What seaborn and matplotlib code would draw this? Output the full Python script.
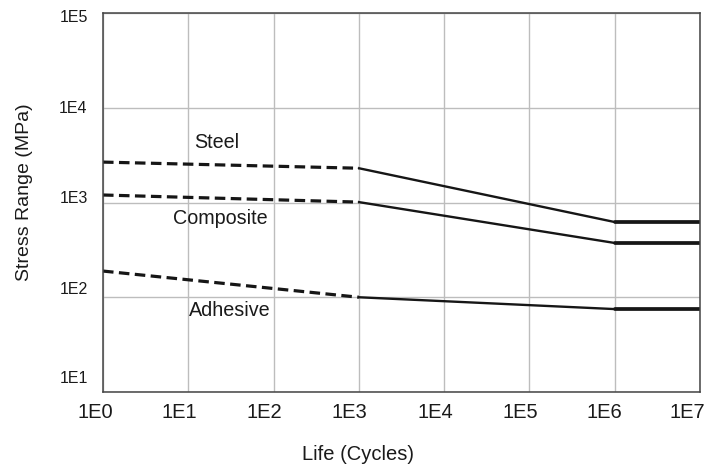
import numpy as np
import pandas as pd
import matplotlib
matplotlib.use("Agg")
import matplotlib.pyplot as plt
import matplotlib.transforms as mtrans
import seaborn as sns

# S-N curve points (life in cycles, stress range in MPa)
materials = ["Steel", "Composite", "Adhesive"]
life_dashed = [1, 1e3]
life_solid = [1e3, 1e6]
life_flat = [1e6, 1e7]
steel_stress = [2670, 2300, 622]
composite_stress = [1200, 1010, 374]
adhesive_stress = [189, 100, 75]
label_pos = {"Steel": (21.7, 4250), "Composite": (24, 686), "Adhesive": (30.8, 71.6)}

x_ticks = [10.0 ** i for i in range(0, 8)]
x_labels = [f"1E{i}" for i in range(0, 8)]
y_ticks = [10.0 ** i for i in range(1, 6)]
y_labels = [f"1E{i}" for i in range(1, 6)]

stress = {"Steel": steel_stress, "Composite": composite_stress, "Adhesive": adhesive_stress}

rows = []
for m in materials:
    s = stress[m]
    for seg, xs, ys in [("dashed", life_dashed, s[0:2]),
                        ("solid", life_solid, s[1:3]),
                        ("flat", life_flat, [s[2], s[2]])]:
        for xv, yv in zip(xs, ys):
            rows.append({"material": m, "segment": seg, "life": xv, "stress": yv})
df = pd.DataFrame(rows)

sns.set_style("white")
plt.rcParams["font.family"] = ["Liberation Sans", "DejaVu Sans"]

fig = plt.figure(figsize=(7.06, 4.68), dpi=100)
ax = fig.add_axes([0.1459, 0.1624, 0.8456, 0.8098])

styles = {"dashed": dict(lw=2.3, dashes=(3.3, 1.7)),
          "solid": dict(lw=1.7),
          "flat": dict(lw=2.7)}
for (m, seg), part in df.groupby(["material", "segment"]):
    st = styles[seg]
    sns.lineplot(data=part, x="life", y="stress", ax=ax, color="#161616",
                 lw=st["lw"], dashes=False, estimator=None, sort=True)
    if "dashes" in st:
        ax.lines[-1].set_dashes(st["dashes"])

ax.set_xscale("log")
ax.set_yscale("log")
ax.set_xlim(1, 1e7)
ax.set_ylim(10, 1e5)
ax.set_xticks(x_ticks)
ax.set_xticklabels(x_labels)
ax.set_yticks(y_ticks)
ax.set_yticklabels(y_labels)
ax.minorticks_off()
ax.tick_params(length=0, colors="#1a1a1a")
ax.tick_params(axis="x", pad=8, labelsize=14.5)
ax.tick_params(axis="y", pad=11, labelsize=11.5)
ax.grid(True, color="#bdbdbd", lw=1)
for sp in ax.spines.values():
    sp.set_color("#444444")
    sp.set_linewidth(1.1)

# the reference prints its tick labels slightly off the gridlines
x_shift = [-8, -9, -9, -9, -9, -9, -10, -13]
for lab, dx in zip(ax.get_xticklabels(), x_shift):
    lab.set_transform(lab.get_transform() + mtrans.ScaledTranslation(dx / 100, 0, fig.dpi_scale_trans))
y_shift = [15, 9, 6, 1, -3]
for lab, dy in zip(ax.get_yticklabels(), y_shift):
    lab.set_transform(lab.get_transform() + mtrans.ScaledTranslation(0, dy / 100, fig.dpi_scale_trans))

for m in materials:
    xp, yp = label_pos[m]
    ax.text(xp, yp, m, fontsize=14.2, ha="center", va="center", color="#1a1a1a")

ax.set_xlabel("Life (Cycles)", fontsize=14.5, color="#1a1a1a", va="center")
ax.set_ylabel("Stress Range (MPa)", fontsize=14, color="#1a1a1a", va="center")
ax.xaxis.set_label_coords(0.427, -0.166)
ax.yaxis.set_label_coords(-0.132, 0.526)

fig.savefig("out.png", dpi=100)
